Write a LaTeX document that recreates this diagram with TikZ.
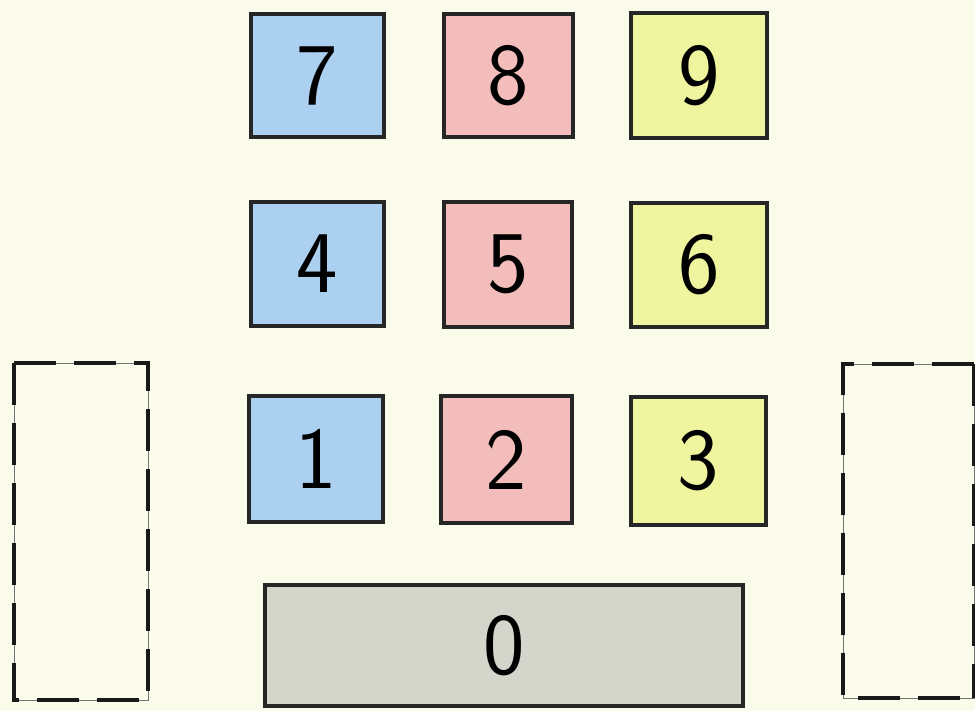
\documentclass[tikz,border=0pt]{standalone}
\begin{document}
\begin{tikzpicture}[x=1pt,y=-1pt,
  key/.style={draw=black!85,line width=3.4pt,inner sep=0pt,font=\fontsize{88}{88}\selectfont\sffamily},
  bluekey/.style={key,fill=keyblue},
  redkey/.style={key,fill=keyred},
  yelkey/.style={key,fill=keyyel},
  graykey/.style={key,fill=keygray},
  thinline/.style={draw=black!55,line width=0.6pt},
  dashline/.style={draw=black!90,line width=4.6pt,dash pattern=on 42pt off 18pt}]
\definecolor{bg}{HTML}{FBFBEC}
\definecolor{keyblue}{HTML}{ACD0F0}
\definecolor{keyred}{HTML}{F3BDBB}
\definecolor{keyyel}{HTML}{EEF59E}
\definecolor{keygray}{HTML}{D4D6CB}
\useasboundingbox (0,0) rectangle (975,711);
\fill[bg] (0,0) rectangle (975,711);
\clip (0,0) rectangle (975,711);
% keys
\path[bluekey] (251,14) rectangle (384,137) node[midway] (k7) {7};
\path[redkey] (444,14) rectangle (573,137) node[midway] (k8) {8};
\path[yelkey] (631,13) rectangle (767,138) node[midway] (k9) {9};
\path[bluekey] (251,202) rectangle (384,326) node[midway] (k4) {4};
\path[redkey] (444,202) rectangle (572,327) node[midway] (k5) {5};
\path[yelkey] (631,203) rectangle (767,327) node[midway] (k6) {6};
\path[bluekey] (249,396) rectangle (383,522) node[midway] (k1) {1};
\path[redkey] (441,396) rectangle (572,523) node[midway] (k2) {2};
\path[yelkey] (631,397) rectangle (766,525) node[midway] (k3) {3};
\path[graykey] (265,585) rectangle (743,706) node[midway] (k0) {0};
% dashed side boxes
\draw[thinline] (14,363) rectangle (148,700);
\draw[dashline] (14,363) -- (148,363) -- (148,700) -- (14,700) -- cycle;
\draw[thinline] (843,364) rectangle (974,698);
\draw[dashline] (974,364) -- (843,364) -- (843,698) -- (974,698);
\draw[dashline] (974,364) -- (974,698);
\end{tikzpicture}
\end{document}
